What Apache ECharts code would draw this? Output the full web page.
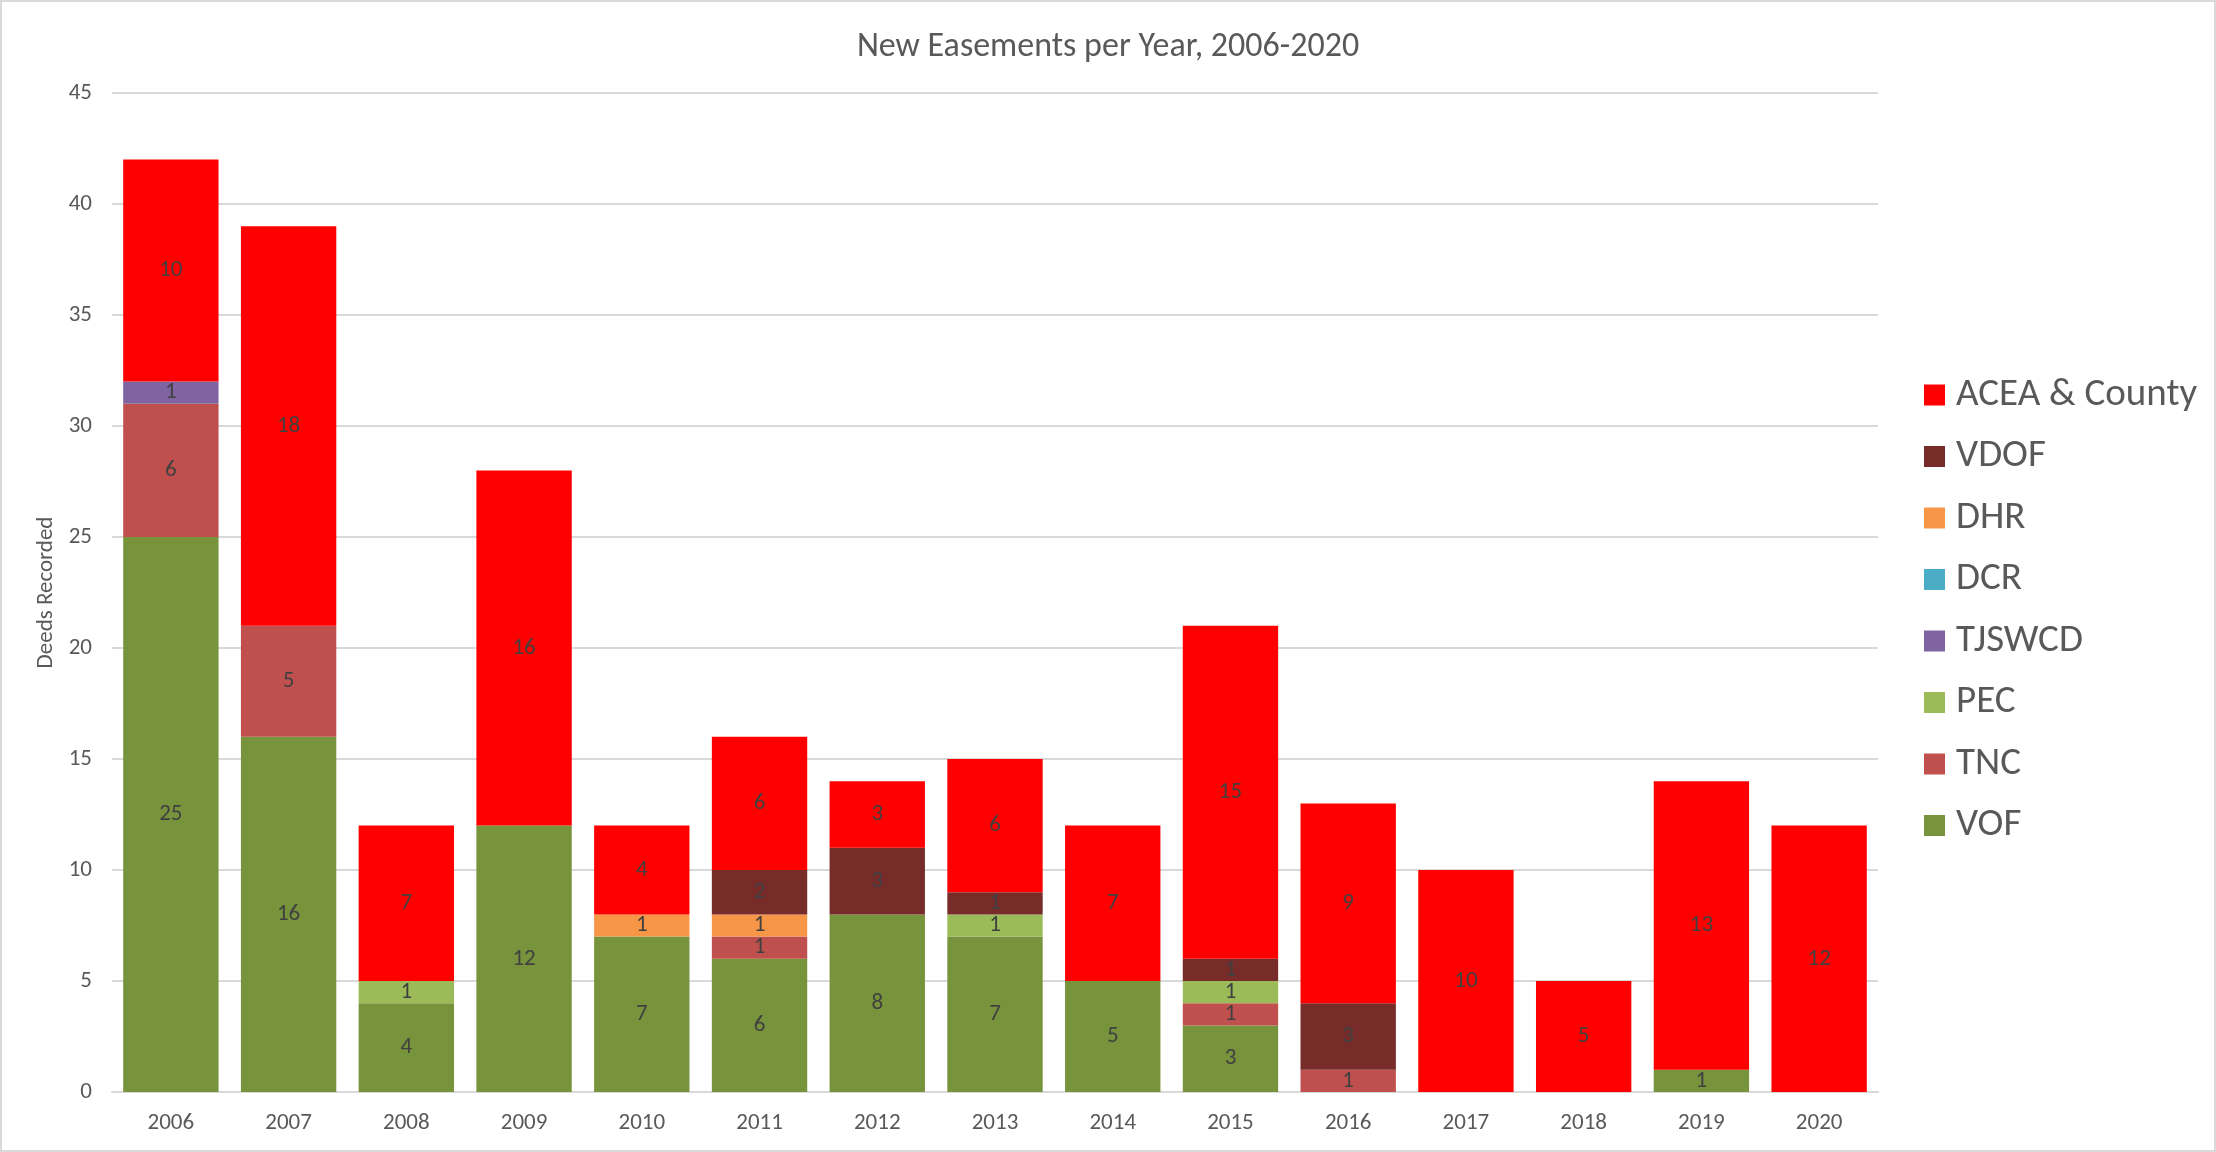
<!DOCTYPE html>
<html>
<head>
<meta charset="utf-8">
<script src="https://cdn.jsdelivr.net/npm/echarts@6/dist/echarts.min.js"></script>
<style>
html,body{margin:0;padding:0;background:#fff;}
#chart{width:2216px;height:1152px;box-sizing:border-box;border:2px solid #d9d9d9;}
</style>
</head>
<body>
<div id="chart"></div>
<script>
const years = ['2006','2007','2008','2009','2010','2011','2012','2013','2014','2015','2016','2017','2018','2019','2020'];
const VOF    = [25,16,4,12,7,6,8,7,5,3,0,0,0,1,0];
const TNC    = [6,5,0,0,0,1,0,0,0,1,1,0,0,0,0];
const PEC    = [0,0,1,0,0,0,0,1,0,1,0,0,0,0,0];
const TJSWCD = [1,0,0,0,0,0,0,0,0,0,0,0,0,0,0];
const DCR    = [0,0,0,0,0,0,0,0,0,0,0,0,0,0,0];
const DHR    = [0,0,0,0,1,1,0,0,0,0,0,0,0,0,0];
const VDOF   = [0,0,0,0,0,2,3,1,0,1,3,0,0,0,0];
const ACEA   = [10,18,7,16,4,6,3,6,7,15,9,10,5,13,12];

const FONT = "Carlito, 'Open Sans', 'Noto Sans', sans-serif";
const seriesDefs = [
  {name:'VOF', data:VOF, color:'#77933C'},
  {name:'TNC', data:TNC, color:'#C0504D'},
  {name:'PEC', data:PEC, color:'#9BBB59'},
  {name:'TJSWCD', data:TJSWCD, color:'#8064A2'},
  {name:'DCR', data:DCR, color:'#4BACC6'},
  {name:'DHR', data:DHR, color:'#F79646'},
  {name:'VDOF', data:VDOF, color:'#772C2A'},
  {name:'ACEA & County', data:ACEA, color:'#FF0000'}
];

const chart = echarts.init(document.getElementById('chart'), null, {renderer:'canvas'});
chart.setOption({
  animation:false,
  title:{text:'New Easements per Year, 2006-2020', left:'center', top:23,
    textStyle:{fontFamily:FONT, fontSize:34, fontWeight:'normal', color:'#595959'}},
  legend:{orient:'vertical', left:1917, top:368, itemWidth:21, itemHeight:21, itemGap:21.5,
    data:['ACEA & County','VDOF','DHR','DCR','TJSWCD','PEC','TNC','VOF'],
    textStyle:{fontFamily:FONT, fontSize:39, lineHeight:40, color:'#595959', padding:[0,0,0,6]},
    icon:'rect'},
  grid:{left:110, right:336, top:91, bottom:58, containLabel:false},
  xAxis:{type:'category', data:years,
    axisLine:{lineStyle:{color:'#d9d9d9', width:2}}, axisTick:{show:false},
    axisLabel:{fontFamily:FONT, fontSize:23, color:'#595959', margin:20}},
  yAxis:{type:'value', min:0, max:45, interval:5,
    name:'Deeds Recorded', nameLocation:'middle', nameGap:52, nameRotate:90,
    nameTextStyle:{fontFamily:FONT, fontSize:23, color:'#595959'},
    axisLine:{show:false}, axisTick:{show:false},
    splitLine:{lineStyle:{color:'#d9d9d9', width:2}},
    axisLabel:{fontFamily:FONT, fontSize:23, color:'#595959', margin:20}},
  series: seriesDefs.map(s=>({
    name:s.name, type:'bar', stack:'total', data:s.data, barCategoryGap:'19%',
    itemStyle:{color:s.color},
    label:{show:true, position:'inside', fontFamily:FONT, fontSize:23, color:'#404040',
      formatter:p=>p.value===0?'':String(p.value)}
  }))
});
</script>
</body>
</html>
